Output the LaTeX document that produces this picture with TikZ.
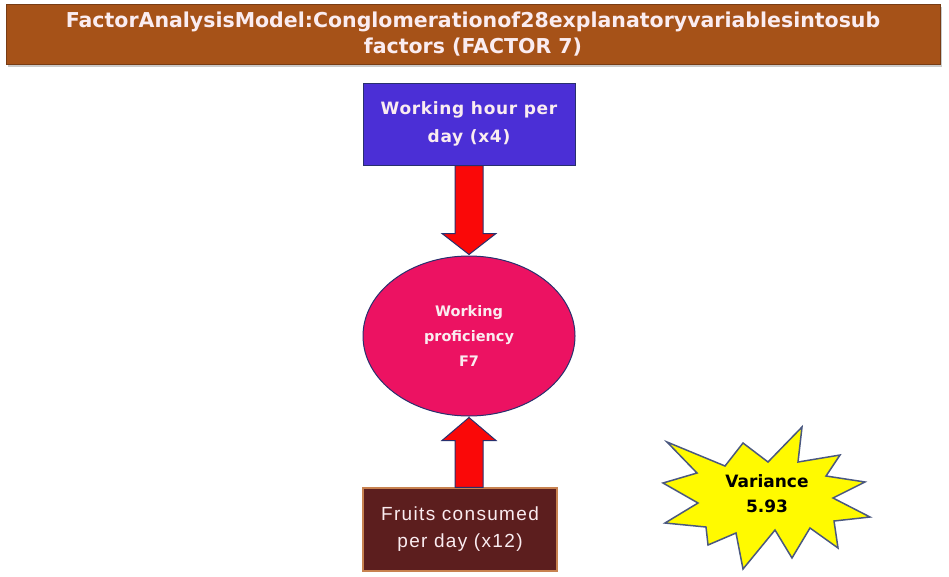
\documentclass[tikz,border=0pt]{standalone}
\usepackage{fontspec}
\setmainfont{DejaVu Sans}
\newfontfamily\plainsans[LetterSpace=7]{Liberation Sans}
\newfontfamily\widebold[LetterSpace=4]{DejaVu Sans}
\usetikzlibrary{calc,shapes.geometric,shadows}

\definecolor{bannerbrown}{RGB}{166,82,24}
\definecolor{bannerline}{RGB}{120,60,20}
\definecolor{boxblue}{RGB}{75,47,214}
\definecolor{navyline}{RGB}{40,48,110}
\definecolor{arrowred}{RGB}{250,8,8}
\definecolor{factorpink}{RGB}{236,18,98}
\definecolor{fruitbrown}{RGB}{92,30,30}
\definecolor{fruitline}{RGB}{200,130,80}
\definecolor{staryellow}{RGB}{255,250,0}
\definecolor{starline}{RGB}{74,88,128}
\definecolor{softwhite}{RGB}{250,236,240}

\tikzset{
  banner/.style={draw=bannerline, fill=bannerbrown, minimum width=934pt, minimum height=60pt,
    inner sep=0pt, align=center, text=softwhite, font=\bfseries\fontsize{20.5}{26}\selectfont,
    drop shadow={shadow xshift=2pt, shadow yshift=-3pt, fill=black!40}},
  varbox/.style={draw=navyline, line width=1pt, fill=boxblue, minimum width=212pt, minimum height=82pt,
    inner sep=0pt, align=center, text=softwhite, font=\widebold\bfseries\fontsize{17}{28}\selectfont},
  factor/.style={ellipse, draw=navyline, line width=1pt, fill=factorpink, minimum width=212pt,
    minimum height=160pt, inner sep=0pt, align=center, text=softwhite,
    font=\bfseries\fontsize{14.5}{25}\selectfont},
  fruitbox/.style={draw=fruitline, line width=1.2pt, fill=fruitbrown, minimum width=194pt, minimum height=83pt,
    inner sep=0pt, align=center, text=softwhite, font=\plainsans\fontsize{19}{27}\selectfont},
  blockarrow/.style={draw=navyline, line width=1pt, fill=arrowred, line join=miter},
  burst/.style={draw=starline, line width=1.5pt, fill=staryellow, line join=miter},
  burstlabel/.style={align=center, text=black, font=\bfseries\fontsize{17}{25}\selectfont}
}

\begin{document}
\begin{tikzpicture}[x=1pt, y=-1pt]
  \useasboundingbox (0,0) rectangle (949,576);
  \fill[white] (0,0) rectangle (949,576);

  % title banner
  \node[banner] (title) at (473,34)
    {FactorAnalysisModel:Conglomerationof28explanatoryvariablesintosub\\factors (FACTOR 7)};

  % explanatory variable, factor and second variable
  \node[varbox] (wh) at (469,124) {Working hour per\\day (x4)};
  \node[factor] (fp) at (469,336) {Working\\proficiency\\F7};
  \node[fruitbox] (fr) at (460,529.5) {Fruits consumed\\per day (x12)};

  % block arrow: working hours down into the factor
  \draw[blockarrow]
    ($(wh.south)+(-14,0)$) -- ($(fp.north)+(-14,-22)$) -- ($(fp.north)+(-27,-22)$)
    -- ($(fp.north)+(0,-1)$)
    -- ($(fp.north)+(27,-22)$) -- ($(fp.north)+(14,-22)$) -- ($(wh.south)+(14,0)$) -- cycle;

  % block arrow: fruits up into the factor
  \coordinate (frtop) at (fp.south |- fr.north);
  \draw[blockarrow]
    ($(frtop)+(-14,0)$) -- ($(fp.south)+(-14,24)$) -- ($(fp.south)+(-27,24)$)
    -- ($(fp.south)+(0,1)$)
    -- ($(fp.south)+(27,24)$) -- ($(fp.south)+(14,24)$) -- ($(frtop)+(14,0)$) -- cycle;

  % variance starburst
  \draw[burst]
    (802,427) -- (798,462) -- (840,455) -- (826,476) -- (865,482) -- (833,498)
    -- (870,517) -- (834,521) -- (838,548) -- (810,528) -- (792,558) -- (775,530)
    -- (743,569) -- (736,533) -- (708,545) -- (706,527) -- (665,523) -- (698,503)
    -- (663,483) -- (697,473) -- (667,442) -- (725,466) -- (743,443) -- (768,462) -- cycle;
  \node[burstlabel] (var) at (767,494) {Variance\\5.93};
\end{tikzpicture}
\end{document}
